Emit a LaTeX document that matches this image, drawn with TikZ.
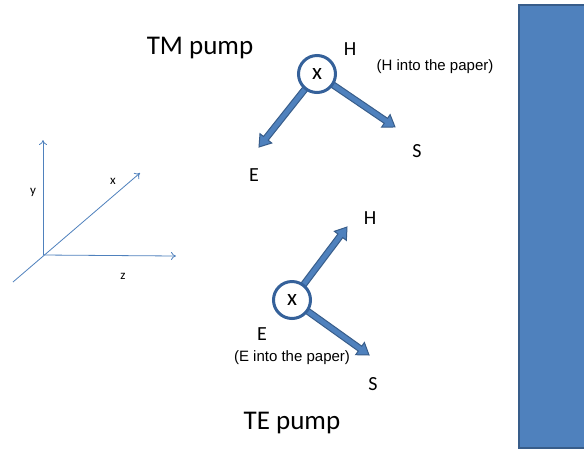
\documentclass[tikz,border=0pt]{standalone}
\usepackage{fontspec}
\setmainfont{Carlito}
\newfontfamily\arialf{Liberation Sans}
\usetikzlibrary{calc,arrows.meta}
\definecolor{bfill}{HTML}{4F81BD}
\definecolor{bline}{HTML}{385D8A}
\definecolor{cline}{HTML}{35619A}
\tikzset{
  lbl/.style={inner sep=0pt,font=\fontsize{20}{22}\selectfont},
  big/.style={inner sep=0pt,font=\fontsize{27}{30}\selectfont},
  paren/.style={inner sep=0pt,font=\arialf\fontsize{15}{17}\selectfont},
  axlbl/.style={inner sep=0pt,font=\fontsize{13}{15}\selectfont},
  circ/.style={circle,draw=cline,line width=3pt,fill=white,minimum size=37pt,inner sep=0pt,font=\fontsize{23}{25}\selectfont},
  arrowstyle/.style={fill=bfill,draw=bline,line width=1pt,line join=miter},
  axis/.style={draw=bfill,line width=0.8pt,-{To[length=5pt,width=8pt]}}
}
\newcommand\blockarr[2]{%
  \path let \p1=($(#2)-(#1)$) in \pgfextra{\pgfmathsetmacro\bang{atan2(\y1,\x1)}\pgfmathsetmacro\blen{veclen(\x1,\y1)}\xdef\gang{\bang}\xdef\glen{\blen}};
  \begin{scope}[shift={(#1)},rotate=\gang]
    \filldraw[arrowstyle] (0,-3) -- (\glen-11,-3) -- (\glen-11,-7.5) -- (\glen,0) -- (\glen-11,7.5) -- (\glen-11,3) -- (0,3) -- cycle;
  \end{scope}}
\begin{document}
\begin{tikzpicture}[x=1pt,y=-1pt]
\useasboundingbox (0,0) rectangle (584,451);
\fill[white] (0,0) rectangle (584,451);
% right bar
\filldraw[fill=bfill,draw=bline,line width=1.5pt] (519,5) rectangle (590,448);
% axes
\coordinate (O) at (43,255);
\coordinate (Y) at (43,140);
\coordinate (Z) at (176,256);
\coordinate (X) at (140,173);
\coordinate (Xb) at (13,282);
\draw[axis] (O) -- (Y);
\draw[axis] (O) -- (Z);
\draw[axis] (Xb) -- (X);
\node[axlbl] (ly) at (33,192) {y};
\node[axlbl] (lx) at (113,181) {x};
\node[axlbl] (lz) at (123,276) {z};
% TM pump
\node[big] (tm) at (200,48) {TM pump};
\coordinate (o1) at (317,74);
\coordinate (e1) at (259,147);
\coordinate (s1) at (395,127);
\blockarr{o1}{e1}
\blockarr{o1}{s1}
\node[circ] (c1) at (o1) {x};
\node[lbl] (h1) at (350,49) {H};
\node[paren] (p1) at (435,67) {(H into the paper)};
\node[lbl] (sl1) at (417,151) {S};
\node[lbl] (el1) at (254,175) {E};
% TE pump
\coordinate (o2) at (292,300);
\coordinate (h2) at (347,227);
\coordinate (s2) at (369,355);
\blockarr{o2}{h2}
\blockarr{o2}{s2}
\node[circ] (c2) at (o2) {x};
\node[lbl] (hl2) at (370,218) {H};
\node[lbl] (el2) at (262,334) {E};
\node[paren] (p2) at (292,358) {(E into the paper)};
\node[lbl] (sl2) at (373,384) {S};
\node[big] (te) at (292,423) {TE pump};
\end{tikzpicture}
\end{document}
